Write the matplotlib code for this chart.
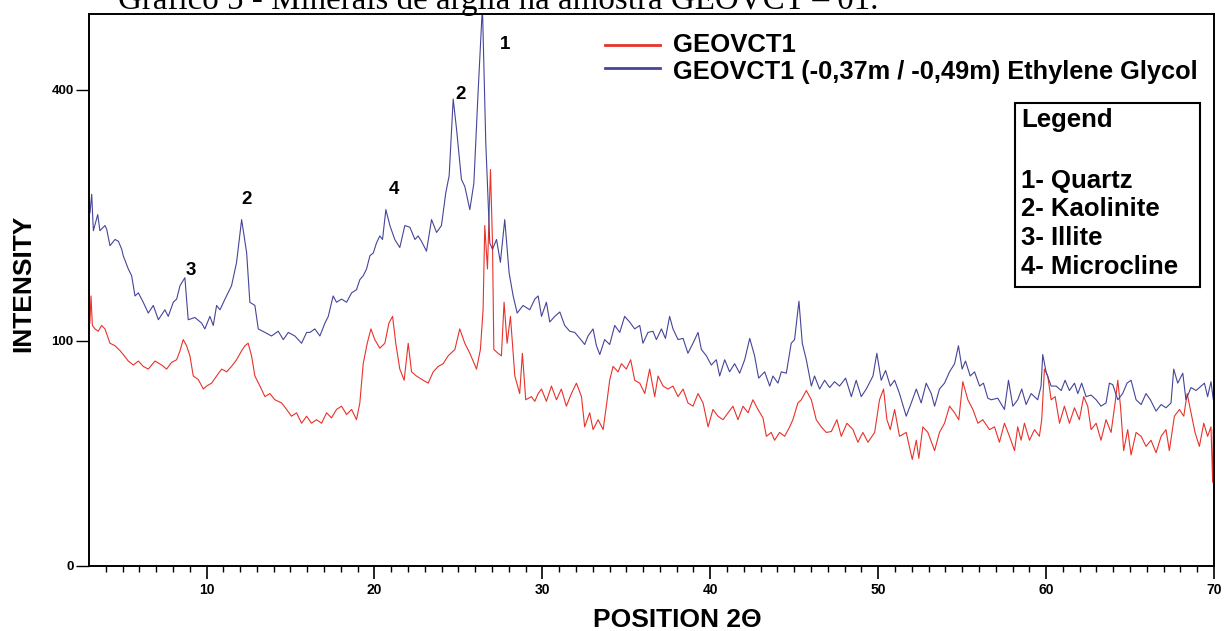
import numpy as np
import matplotlib
matplotlib.use("Agg")
import matplotlib.pyplot as plt
from matplotlib.lines import Line2D
from matplotlib.patches import Rectangle

# ---- data (2-theta, intensity) ----
blue_x = [3.06, 3.16, 3.26, 3.52, 3.65, 3.95, 4.05, 4.25, 4.55, 4.75, 4.95, 5.04, 5.34, 5.54, 5.74,
          5.94, 6.23, 6.53, 6.83, 7.13, 7.52, 7.72, 8.02, 8.22, 8.42, 8.71, 8.91, 9.31, 9.71, 9.90,
          10.2, 10.4, 10.6, 10.8, 11.1, 11.49, 11.79, 12.09, 12.39, 12.58, 12.88, 13.08, 13.48, 13.87,
          14.27, 14.57, 14.87, 15.26, 15.66, 15.96, 16.16, 16.45, 16.75, 17.05, 17.25, 17.54, 17.74,
          18.04, 18.34, 18.64, 18.93, 19.13, 19.33, 19.53, 19.73, 19.93, 20.12, 20.32, 20.48, 20.68,
          20.92, 21.21, 21.51, 21.81, 22.11, 22.41, 22.6, 22.8, 23.1, 23.4, 23.7, 23.99, 24.25, 24.45,
          24.69, 24.89, 25.18, 25.38, 25.68, 25.92, 26.17, 26.43, 26.63, 26.87, 27.03, 27.27, 27.5,
          27.76, 28.02, 28.26, 28.5, 28.85, 29.25, 29.55, 29.75, 29.95, 30.24, 30.44, 30.74, 31.04,
          31.33, 31.63, 31.93, 32.23, 32.52, 32.72, 33.02, 33.22, 33.42, 33.71, 34.01, 34.31, 34.61,
          34.9, 35.2, 35.5, 35.8, 35.99, 36.29, 36.59, 36.79, 37.09, 37.33, 37.58, 37.78, 38.08, 38.38,
          38.67, 38.97, 39.27, 39.47, 39.77, 40.06, 40.36, 40.56, 40.86, 41.15, 41.45, 41.75, 42.05,
          42.35, 42.64, 42.88, 43.24, 43.54, 43.73, 44.03, 44.23, 44.53, 44.82, 45.02, 45.28, 45.48,
          45.72, 46.02, 46.21, 46.51, 46.81, 47.11, 47.4, 47.7, 48.06, 48.4, 48.69, 48.99, 49.29,
          49.69, 49.92, 50.18, 50.44, 50.72, 50.98, 51.27, 51.67, 51.97, 52.27, 52.56, 52.86, 53.16,
          53.36, 53.65, 53.95, 54.25, 54.55, 54.78, 55.0, 55.2, 55.48, 55.74, 56.04, 56.27, 56.53,
          56.73, 57.12, 57.52, 57.76, 58.02, 58.31, 58.55, 58.81, 59.11, 59.5, 59.7, 59.8, 60.0, 60.3,
          60.6, 60.9, 61.13, 61.39, 61.69, 61.89, 62.12, 62.38, 62.68, 62.98, 63.27, 63.57, 63.77,
          63.97, 64.27, 64.56, 64.82, 65.06, 65.36, 65.66, 65.95, 66.21, 66.55, 66.85, 67.14, 67.44,
          67.6, 67.84, 68.14, 68.33, 68.63, 68.93, 69.23, 69.43, 69.62, 69.82, 69.96, 70.0]
blue_y = [230, 253, 209, 228, 209, 215, 211, 192, 199, 197, 188, 181, 167, 160, 140,
          143, 134, 124, 131, 118, 127, 121, 134, 137, 150, 158, 118, 120, 115, 110,
          121, 113, 131, 127, 137, 150, 174, 222, 184, 134, 131, 110, 107, 104,
          108, 101, 107, 104, 98, 107, 107, 110, 104, 115, 121, 140, 134,
          137, 134, 143, 146, 156, 160, 167, 181, 184, 195, 203, 199, 234,
          215, 199, 190, 215, 213, 199, 203, 197, 186, 222, 207, 215, 255, 277,
          386, 341, 272, 263, 234, 267, 395, 540, 322, 195, 188, 199, 174,
          222, 163, 140, 124, 131, 127, 137, 140, 121, 134, 116, 121, 125,
          113, 108, 107, 102, 97, 104, 110, 96, 89, 101, 97, 113, 107,
          121, 116, 110, 113, 98, 107, 108, 101, 110, 102, 121, 110, 101, 102,
          90, 98, 107, 93, 88, 81, 85, 73, 85, 76, 82, 75, 85,
          102, 88, 71.5, 76, 66, 73, 68, 76, 75, 98, 101, 135, 98,
          85, 66, 73, 64, 70, 65, 69, 66, 71.5, 59, 70, 59, 64,
          73, 90, 70, 77, 66, 70, 61, 47, 55, 64, 55, 68, 61,
          53, 64, 68, 76, 82, 96, 78, 84, 73, 76, 66, 68, 58,
          57, 58, 51, 70, 53, 57, 64, 54, 61, 57, 66, 89, 76, 66,
          66, 63, 70, 63, 68, 61, 68, 59, 60, 57, 53, 55, 68,
          67, 57, 61, 68, 70, 57, 54, 61, 57, 50, 54, 52, 55,
          78, 68, 75, 57, 65, 63, 66, 68, 59, 69, 57, 70]

red_x = [3.05, 3.12, 3.20, 3.36, 3.55, 3.75, 3.95, 4.25, 4.55, 4.85, 5.04, 5.34, 5.64, 5.94, 6.23,
         6.53, 6.93, 7.33, 7.62, 7.92, 8.22, 8.42, 8.61, 8.81, 9.01, 9.21, 9.51, 9.81, 10.0, 10.3,
         10.6, 10.9, 11.2, 11.49, 11.79, 12.09, 12.29, 12.48, 12.68, 12.88, 13.18, 13.48, 13.77,
         14.07, 14.47, 14.77, 15.06, 15.36, 15.66, 15.96, 16.25, 16.55, 16.85, 17.15, 17.44, 17.74,
         18.04, 18.34, 18.64, 18.93, 19.13, 19.33, 19.57, 19.79, 20.02, 20.32, 20.62, 20.86, 21.08,
         21.27, 21.51, 21.77, 22.01, 22.21, 22.5, 22.9, 23.2, 23.5, 23.8, 24.09, 24.39, 24.79, 25.08,
         25.38, 25.68, 26.08, 26.31, 26.47, 26.57, 26.73, 26.91, 27.03, 27.11, 27.36, 27.56, 27.72,
         27.9, 28.1, 28.36, 28.65, 28.81, 29.01, 29.35, 29.55, 29.75, 29.95, 30.24, 30.54, 30.84,
         31.13, 31.43, 31.73, 32.03, 32.33, 32.52, 32.82, 33.02, 33.32, 33.62, 33.81, 34.01, 34.21,
         34.51, 34.71, 35.0, 35.26, 35.5, 35.8, 36.1, 36.39, 36.69, 36.89, 37.19, 37.48, 37.78,
         38.08, 38.38, 38.67, 38.97, 39.27, 39.57, 39.87, 40.16, 40.46, 40.76, 41.06, 41.35, 41.65,
         41.95, 42.25, 42.54, 42.84, 43.14, 43.34, 43.63, 43.83, 44.13, 44.43, 44.73, 44.92, 45.22,
         45.42, 45.72, 46.02, 46.31, 46.61, 46.91, 47.21, 47.54, 47.8, 48.14, 48.5, 48.79, 49.09,
         49.39, 49.79, 50.08, 50.32, 50.52, 50.72, 50.98, 51.27, 51.67, 52.03, 52.27, 52.42, 52.66,
         52.96, 53.36, 53.65, 53.95, 54.25, 54.55, 54.8, 55.04, 55.34, 55.64, 55.94, 56.23, 56.63,
         56.93, 57.22, 57.52, 57.82, 58.12, 58.31, 58.51, 58.71, 59.01, 59.31, 59.6, 59.74, 59.9,
         60.1, 60.3, 60.54, 60.8, 61.09, 61.39, 61.69, 61.98, 62.24, 62.48, 62.68, 62.98, 63.27,
         63.57, 63.87, 64.11, 64.27, 64.43, 64.62, 64.86, 65.06, 65.36, 65.66, 65.95, 66.25, 66.55,
         66.85, 67.14, 67.34, 67.64, 67.94, 68.2, 68.4, 68.63, 68.87, 69.13, 69.39, 69.62, 69.82,
         69.92, 69.96]
red_y = [115, 140, 113, 110, 108, 113, 110, 98, 96, 92, 89, 84, 81, 84, 80,
         78, 84, 81, 78, 83, 85, 92, 101, 96, 88, 73, 70.5, 64, 66, 68,
         73, 78, 76, 80, 85, 92, 96, 98, 88, 73, 66, 59, 61,
         57, 55, 51, 47, 49, 43, 47, 43, 45, 43, 49, 46, 51,
         53, 48, 51, 45, 55, 82, 98, 110, 101, 94, 98, 115, 121,
         98, 78, 70, 98, 76, 73, 70, 68, 76, 80, 82, 88, 93, 110,
         98, 90, 78, 93, 127, 215, 167, 285, 195, 93, 90, 88, 134,
         98, 121, 73, 61, 90, 57, 59, 56, 61, 64, 56, 66, 57,
         64, 53, 61, 68, 59, 41, 49, 39.5, 45, 39.5, 53, 70, 80,
         76, 82, 78, 85, 70, 68, 61, 78, 59, 73, 66, 64, 66,
         59, 64, 55, 53, 61, 55, 41, 51, 47, 45, 49, 53, 45,
         53, 49, 57, 51, 46, 36, 38, 34, 38, 36, 41, 45, 55,
         57, 63, 57, 45, 41, 38, 38.5, 45, 36, 43, 39.5, 33, 38,
         33, 38, 57, 64, 45, 39.5, 51, 36, 38, 25, 34, 25.5, 41,
         38, 29, 38, 43, 53, 49, 45, 69, 57, 51, 43, 45, 39.5,
         41, 33, 43, 36, 29, 41, 34, 43, 34, 39.5, 36, 45, 78,
         73, 57, 59, 43, 53, 43, 52, 45, 59, 53, 39.5, 43, 34,
         45, 38, 55, 70, 53, 29, 39.5, 27, 38, 36, 31, 34, 28,
         36, 39.5, 29, 47, 51, 47, 61, 49, 38, 31, 43, 36, 41,
         16, 39.5]

peak_labels = ["1", "2", "4", "2", "3"]
peak_x = [27.80, 25.12, 21.15, 12.40, 9.07]
peak_y = [474, 393, 259, 247, 165]

legend_items = ["1- Quartz", "2- Kaolinite", "3- Illite", "4- Microcline"]

W, H = 1225, 631
BOLD = dict(family="Liberation Sans", fontweight="bold")


def fwd(v):
    v = np.asarray(v, dtype=float)
    return np.sign(v) * np.abs(v) ** 0.54


def inv(v):
    v = np.asarray(v, dtype=float)
    return np.sign(v) * np.abs(v) ** (1 / 0.54)


fig = plt.figure(figsize=(W / 100, H / 100), dpi=100)
ax = fig.add_axes([89 / W, 1 - 566 / H, (1214 - 89) / W, (566 - 13.5) / H])
ax.set_yscale("function", functions=(fwd, inv))

ax.plot(red_x, red_y, color="#e8322a", lw=0.8)
ax.plot(blue_x, blue_y, color="#45459a", lw=0.8)

ax.set_xlim(3, 70)
ax.set_ylim(0, 527)
ax.set_xticks(range(10, 71, 10))
ax.set_xticks(range(4, 70), minor=True)
ax.set_yticks([0, 100, 400])
ax.tick_params(axis="x", which="major", length=9, width=1.2, pad=3, labelsize=10)
ax.tick_params(axis="x", which="minor", length=4.5, width=1.0)
ax.tick_params(axis="y", which="major", length=9.5, width=1.0, pad=1.5, labelsize=9.5)
ax.tick_params(axis="y", which="minor", left=False)
for lab in ax.get_xticklabels() + ax.get_yticklabels():
    lab.set_fontweight("bold")
    lab.set_family("Liberation Sans")
for sp in ax.spines.values():
    sp.set_linewidth(1.4)

for t, x, y in zip(peak_labels, peak_x, peak_y):
    ax.text(x, y, t, ha="center", va="center", fontsize=13.5, **BOLD)

# series legend
fig.add_artist(Line2D([605 / W, 660 / W], [1 - 45 / H, 1 - 45 / H], color="#e8322a", lw=2))
fig.add_artist(Line2D([605 / W, 660 / W], [1 - 68 / H, 1 - 68 / H], color="#45459a", lw=2))
fig.text(673 / W, 1 - 45 / H, "GEOVCT1", ha="left", va="center", fontsize=18.5, **BOLD)
fig.text(673 / W, 1 - 72 / H, "GEOVCT1 (-0,37m / -0,49m) Ethylene Glycol", ha="left", va="center",
         fontsize=18.3, **BOLD)

# mineral legend box
fig.add_artist(Rectangle((1015 / W, 1 - 287 / H), (1200 - 1015) / W, (287 - 103) / H,
                         transform=fig.transFigure, fill=False, ec="black", lw=1.5))
fig.text(1021 / W, 1 - 120 / H, "Legend", ha="left", va="center", fontsize=18.5, **BOLD)
for i, item in enumerate(legend_items):
    fig.text(1021 / W, 1 - (181 + 28.5 * i) / H, item, ha="left", va="center", fontsize=18.5, **BOLD)

fig.text(677 / W, 1 - 620 / H, "POSITION 2\u0398", ha="center", va="center", fontsize=19, **BOLD)
fig.text(23 / W, 1 - 283 / H, "INTENSITY", ha="center", va="center", rotation=90, fontsize=19, **BOLD)

# caption sits partly above the top edge, as in the scanned source
fig.text(118 / W, 1 - 9 / H, "Gr\u00e1fico 5 - Minerais de argila na amostra GEOVCT \u2013 01.",
         ha="left", va="baseline", fontsize=23.8, family="Liberation Serif")

fig.savefig("out.png", dpi=100)
